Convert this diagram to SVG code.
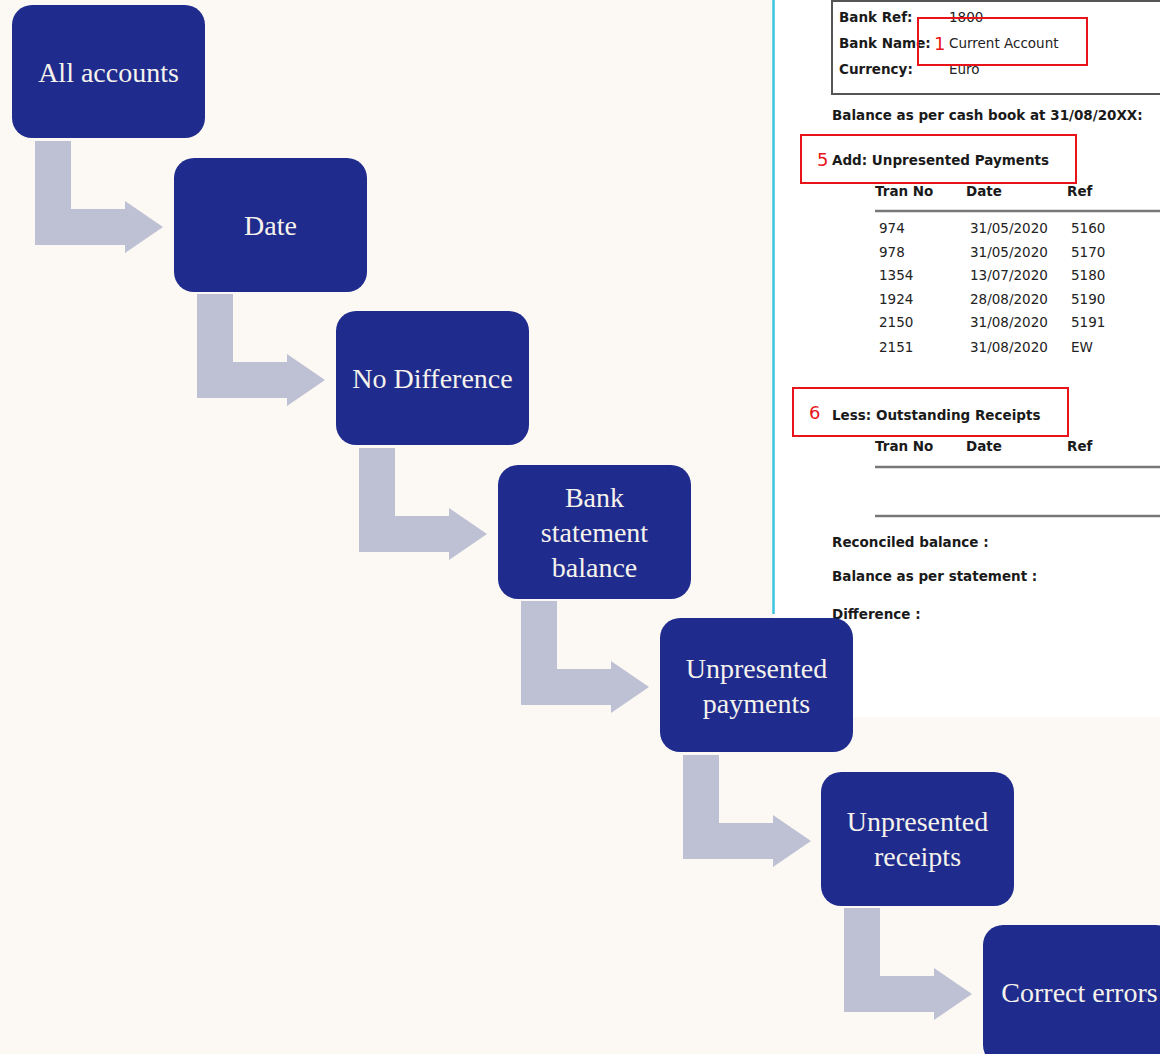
<svg xmlns="http://www.w3.org/2000/svg" width="1160" height="1054" viewBox="0 0 1160 1054">
<defs>
<style>
.node rect{fill:#1F2C8D}
.node text{fill:#F6F2EC;font-family:"Liberation Serif",serif;font-size:28px;text-anchor:middle}
.arrow{fill:#BEC0D4}
.b{font-family:"DejaVu Sans",sans-serif;font-weight:bold;font-size:13.5px;fill:#1a1a1a}
.r{font-family:"DejaVu Sans",sans-serif;font-size:13.5px;fill:#222}
.red{font-family:"DejaVu Sans",sans-serif;font-size:18px;fill:#E8141A}
.rbox{fill:none;stroke:#E8141A;stroke-width:2}
.hl{stroke:#777;stroke-width:2.5}
</style>
<polygon id="arr" points="0,0 36,0 36,68 90,68 90,60 128,86 90,112 90,104 0,104"/>
</defs>
<rect width="1160" height="1054" fill="#FCF9F4"/>
<g id="screenshot">
<rect x="774" y="0" width="386" height="717" fill="#FFFFFF"/>
<line x1="773.5" y1="0" x2="773.5" y2="614" stroke="#3CC3DF" stroke-width="2.5"/>
<rect x="832" y="1" width="340" height="93" fill="none" stroke="#555" stroke-width="2"/>
<text class="b" x="839" y="22">Bank Ref:</text>
<text class="r" x="949" y="22">1800</text>
<text class="b" x="839" y="48">Bank Name:</text>
<text class="r" x="949" y="48">Current Account</text>
<text class="b" x="839" y="74">Currency:</text>
<text class="r" x="949" y="74">Euro</text>
<rect class="rbox" x="918" y="18" width="169" height="47"/>
<text class="red" x="934" y="50">1</text>
<text class="b" x="832" y="120">Balance as per cash book at 31/08/20XX:</text>
<rect class="rbox" x="801" y="135" width="275" height="48"/>
<text class="red" x="817" y="166">5</text>
<text class="b" x="832" y="165">Add: Unpresented Payments</text>
<text class="b" x="875" y="196">Tran No</text>
<text class="b" x="966" y="196">Date</text>
<text class="b" x="1067" y="196">Ref</text>
<line class="hl" x1="875" y1="211" x2="1160" y2="211"/>
<g class="r">
<text x="879" y="233">974</text><text x="970" y="233">31/05/2020</text><text x="1071" y="233">5160</text>
<text x="879" y="257">978</text><text x="970" y="257">31/05/2020</text><text x="1071" y="257">5170</text>
<text x="879" y="280">1354</text><text x="970" y="280">13/07/2020</text><text x="1071" y="280">5180</text>
<text x="879" y="304">1924</text><text x="970" y="304">28/08/2020</text><text x="1071" y="304">5190</text>
<text x="879" y="327">2150</text><text x="970" y="327">31/08/2020</text><text x="1071" y="327">5191</text>
<text x="879" y="352">2151</text><text x="970" y="352">31/08/2020</text><text x="1071" y="352">EW</text>
</g>
<rect class="rbox" x="793" y="388" width="275" height="48"/>
<text class="red" x="809" y="419">6</text>
<text class="b" x="832" y="420">Less: Outstanding Receipts</text>
<text class="b" x="875" y="451">Tran No</text>
<text class="b" x="966" y="451">Date</text>
<text class="b" x="1067" y="451">Ref</text>
<line class="hl" x1="875" y1="467" x2="1160" y2="467"/>
<line class="hl" x1="875" y1="516" x2="1160" y2="516"/>
<text class="b" x="832" y="547">Reconciled balance :</text>
<text class="b" x="832" y="581">Balance as per statement :</text>
<text class="b" x="832" y="619">Difference :</text>
</g>
<g id="connectors">
<use href="#arr" class="arrow" x="35" y="141"/>
<use href="#arr" class="arrow" x="197" y="294"/>
<use href="#arr" class="arrow" x="359" y="448"/>
<use href="#arr" class="arrow" x="521" y="601"/>
<use href="#arr" class="arrow" x="683" y="755"/>
<use href="#arr" class="arrow" x="844" y="908"/>
</g>
<g id="n1" class="node"><rect x="12" y="5" width="193" height="133" rx="20"/><text x="108.5" y="82">All accounts</text></g>
<g id="n2" class="node"><rect x="174" y="158" width="193" height="134" rx="20"/><text x="270.5" y="235">Date</text></g>
<g id="n3" class="node"><rect x="336" y="311" width="193" height="134" rx="20"/><text x="432.5" y="388">No Difference</text></g>
<g id="n4" class="node"><rect x="498" y="465" width="193" height="134" rx="20"/><text x="594.5" y="507">Bank</text><text x="594.5" y="542">statement</text><text x="594.5" y="577">balance</text></g>
<g id="n5" class="node"><rect x="660" y="618" width="193" height="134" rx="20"/><text x="756.5" y="678">Unpresented</text><text x="756.5" y="713">payments</text></g>
<g id="n6" class="node"><rect x="821" y="772" width="193" height="134" rx="20"/><text x="917.5" y="831">Unpresented</text><text x="917.5" y="866">receipts</text></g>
<g id="n7" class="node"><rect x="983" y="925" width="193" height="140" rx="20"/><text x="1079.5" y="1002">Correct errors</text></g>
</svg>
